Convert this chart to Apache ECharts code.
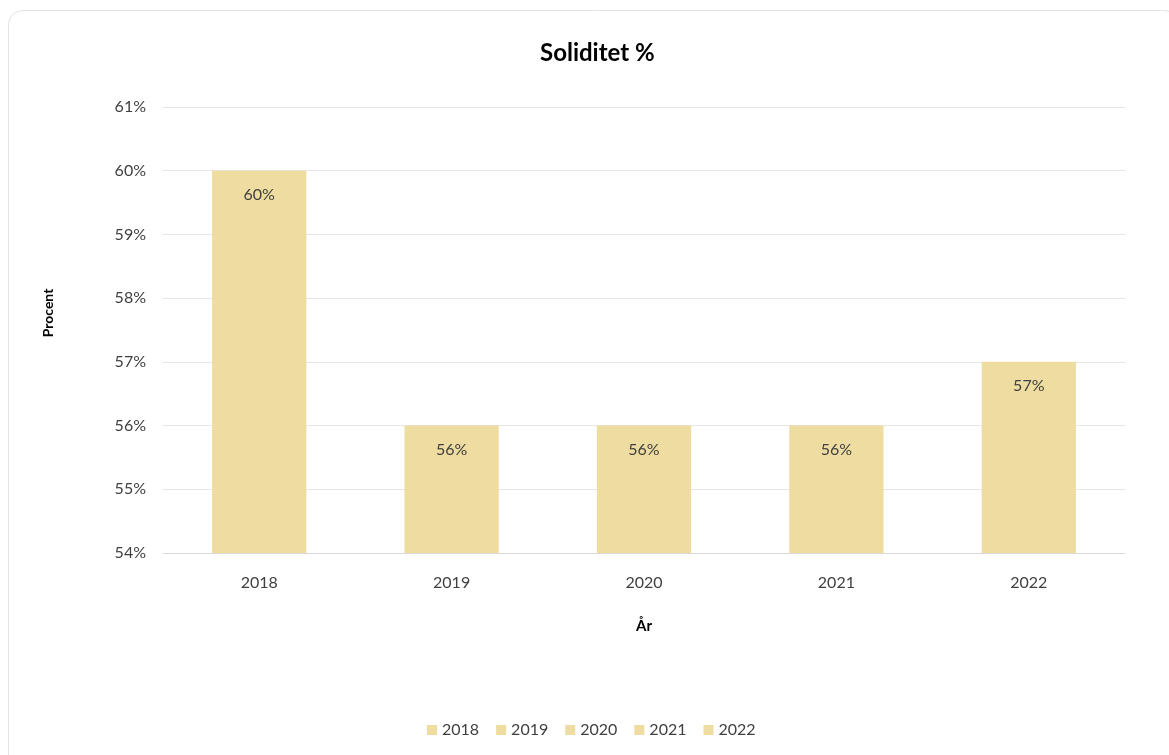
<!DOCTYPE html>
<html>
<head>
<meta charset="utf-8">
<script src="https://cdn.jsdelivr.net/npm/echarts@6/dist/echarts.min.js"></script>
<style>
html,body{margin:0;padding:0;background:#fff;}
#c{width:1169px;height:755px;}
</style>
</head>
<body>
<div id="c"></div>
<script>
const categories = ['2018','2019','2020','2021','2022'];
const values = [60, 56, 56, 56, 57];
const yTicks = {min: 54, max: 61, interval: 1};
const barColor = '#EEDCA0';
const FONT = 'Lato, "Open Sans", sans-serif';

const chart = echarts.init(document.getElementById('c'));
const series = categories.map((name, i) => ({
  name: name,
  type: 'bar',
  stack: 'all',
  barWidth: '49%',
  itemStyle: {color: barColor},
  data: values.map((v, j) => j === i ? v : '-'),
  label: {
    show: true,
    position: 'insideTop',
    distance: 16,
    formatter: '{c}%',
    color: '#404040',
    fontSize: 16,
    fontFamily: FONT
  }
}));

chart.setOption({
  animation: false,
  backgroundColor: '#fff',
  graphic: [{
    type: 'rect',
    shape: {x: 8.5, y: 10.5, width: 1170, height: 760, r: 14},
    style: {fill: 'none', stroke: '#e3e3e3', lineWidth: 1},
    silent: true,
    z: -1
  }],
  title: {
    text: 'Soliditet %',
    left: 535,
    top: 36,
    textStyle: {fontFamily: FONT, fontSize: 24, fontWeight: 'bold', color: '#000'}
  },
  legend: {
    data: categories,
    bottom: 12,
    left: 422,
    icon: 'rect',
    itemWidth: 10,
    itemHeight: 10,
    itemGap: 17,
    textStyle: {fontFamily: FONT, fontSize: 16, color: '#404040'}
  },
  grid: {left: 163, right: 44, top: 107, bottom: 202},
  xAxis: {
    type: 'category',
    data: categories,
    name: 'År',
    nameLocation: 'middle',
    nameGap: 66,
    nameTextStyle: {fontFamily: FONT, fontSize: 15, fontWeight: 'bold', color: '#000'},
    axisLine: {lineStyle: {color: '#d9d9d9'}},
    axisTick: {show: false},
    axisLabel: {fontFamily: FONT, fontSize: 16, color: '#404040', margin: 22}
  },
  yAxis: {
    type: 'value',
    min: yTicks.min,
    max: yTicks.max,
    interval: yTicks.interval,
    name: 'Procent',
    nameLocation: 'middle',
    nameGap: 108,
    nameRotate: 90,
    nameTextStyle: {fontFamily: FONT, fontSize: 14, fontWeight: 'bold', color: '#000', padding: [0, 0, 0, 34]},
    axisLine: {show: false},
    axisTick: {show: false},
    axisLabel: {fontFamily: FONT, fontSize: 16, color: '#404040', margin: 17, formatter: '{value}%'},
    splitLine: {lineStyle: {color: '#e6e6e6'}}
  },
  series: series
});
</script>
</body>
</html>
